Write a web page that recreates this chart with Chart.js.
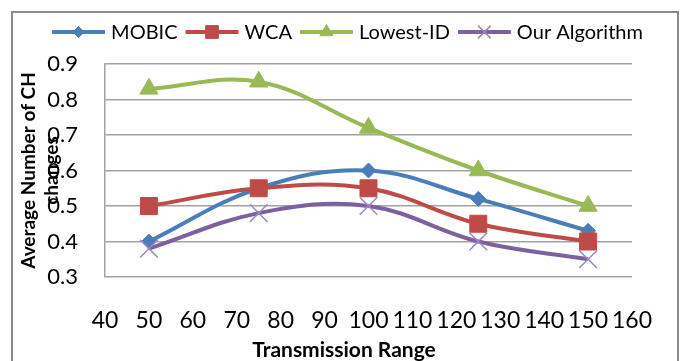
<!DOCTYPE html>
<html>
<head>
<meta charset="utf-8">
<script src="https://cdn.jsdelivr.net/npm/chart.js@4.4.1/dist/chart.umd.min.js"></script>
<style>
  html, body { margin: 0; padding: 0; background: #fff; }
  #wrap { position: relative; width: 683px; height: 361px; overflow: hidden; }
  #frame { position: absolute; left: 11px; top: 11px; width: 664px; height: 420px; border: 2px solid #8a8a8a; }
  #c { position: absolute; left: 0; top: 0; }
</style>
</head>
<body>
<div id="wrap">
  <div id="frame"></div>
  <canvas id="c" width="683" height="361"></canvas>
</div>
<script>
// Transmission ranges at which each algorithm was measured
const ranges = [50, 75, 100, 125, 150];

// Average number of cluster-head changes per algorithm
const mobic        = [0.40, 0.55, 0.60, 0.52, 0.43];
const wca          = [0.50, 0.55, 0.55, 0.45, 0.40];
const lowestId     = [0.83, 0.85, 0.72, 0.60, 0.50];
const ourAlgorithm = [0.38, 0.48, 0.50, 0.40, 0.35];

// Axis ticks
const xTicks = [40, 50, 60, 70, 80, 90, 100, 110, 120, 130, 140, 150, 160];
const yTicks = [0.3, 0.4, 0.5, 0.6, 0.7, 0.8, 0.9];

const xTitle = 'Transmission Range';
const yTitle = ['Average Number of CH', 'changes'];

const FONT = 'Lato, "Open Sans", "DejaVu Sans", sans-serif';

const toPoints = (vals) => vals.map((v, i) => ({ x: ranges[i], y: v }));

const series = [
  { label: 'MOBIC', values: mobic, color: '#4a7ebb', marker: 'rectRot', radius: 7.5, keyRadius: 5.5, fill: '#4a7ebb', edge: '#4a7ebb', edgeWidth: 1, order: 4 },
  { label: 'WCA', values: wca, color: '#be4b48', marker: 'rect', radius: 12, keyRadius: 9, fill: '#be4b48', edge: '#be4b48', edgeWidth: 1, order: 3 },
  { label: 'Lowest-ID', values: lowestId, color: '#98b954', marker: 'triangle', radius: 10.5, keyRadius: 7.5, fill: '#98b954', edge: '#98b954', edgeWidth: 1, order: 2 },
  { label: 'Our Algorithm', values: ourAlgorithm, color: '#7d60a0', marker: 'crossRot', radius: 12.5, keyRadius: 9, fill: 'rgba(0,0,0,0)', edge: '#9a87c2', edgeWidth: 1.5, order: 1 }
];

const datasets = series.map(s => ({
  label: s.label,
  data: toPoints(s.values),
  borderColor: s.color,
  backgroundColor: s.color,
  borderWidth: 4,
  tension: 0.38,
  pointStyle: s.marker,
  pointRadius: s.radius,
  pointBackgroundColor: s.fill,
  pointBorderColor: s.edge,
  pointBorderWidth: s.edgeWidth,
  keyRadius: s.keyRadius,
  order: s.order
}));

// Series key across the top and the horizontal axis caption
const captions = {
  id: 'captions',
  afterDraw(chart) {
    const ctx = chart.ctx;
    ctx.save();
    ctx.font = '20px ' + FONT;
    ctx.textBaseline = 'middle';
    const lineLen = 53, textGap = 6, itemGap = 8, keyY = 32, keyCenter = 347.5;
    const items = chart.data.datasets.map(ds => ({ ds, w: ctx.measureText(ds.label).width }));
    const total = items.reduce((s, it) => s + lineLen + textGap + it.w, 0) + itemGap * (items.length - 1);
    let x = keyCenter - total / 2;
    items.forEach(({ ds, w }) => {
      ctx.strokeStyle = ds.borderColor;
      ctx.lineWidth = 4;
      ctx.beginPath();
      ctx.moveTo(x, keyY);
      ctx.lineTo(x + lineLen, keyY);
      ctx.stroke();
      ctx.fillStyle = ds.pointBackgroundColor;
      ctx.strokeStyle = ds.pointBorderColor;
      ctx.lineWidth = ds.pointBorderWidth;
      Chart.helpers.drawPoint(ctx, {
        pointStyle: ds.pointStyle,
        radius: ds.keyRadius,
        borderWidth: ds.pointBorderWidth,
        rotation: 0
      }, x + lineLen / 2, keyY);
      ctx.fillStyle = '#000';
      ctx.textAlign = 'left';
      ctx.fillText(ds.label, x + lineLen + textGap, keyY + 1);
      x += lineLen + textGap + w + itemGap;
    });
    ctx.font = 'bold 21px ' + FONT;
    ctx.textAlign = 'center';
    ctx.fillStyle = '#000';
    ctx.fillText(xTitle, 344, 350);
    ctx.restore();
  }
};

new Chart(document.getElementById('c'), {
  type: 'line',
  data: { datasets },
  plugins: [captions],
  options: {
    responsive: false,
    animation: false,
    devicePixelRatio: 1,
    layout: { padding: { top: 64, right: 51, bottom: 0, left: 0 } },
    plugins: {
      legend: { display: false },
      tooltip: { enabled: false }
    },
    scales: {
      x: {
        type: 'linear',
        min: xTicks[0],
        max: xTicks[xTicks.length - 1],
        afterFit(scale) { scale.height = 84; },
        afterBuildTicks(scale) { scale.ticks = xTicks.map(v => ({ value: v })); },
        grid: { display: false, drawTicks: false },
        border: { display: false },
        ticks: {
          padding: 30,
          color: '#000',
          font: { family: FONT, size: 23 },
          maxRotation: 0,
          autoSkip: false
        }
      },
      y: {
        min: yTicks[0],
        max: yTicks[yTicks.length - 1],
        afterFit(scale) { scale.width = 105; },
        afterBuildTicks(scale) { scale.ticks = yTicks.map(v => ({ value: v })); },
        grid: { color: '#a2a2a2', lineWidth: 1.5, drawTicks: false },
        border: { display: true, color: '#a2a2a2', width: 1.5 },
        ticks: {
          padding: 27,
          color: '#000',
          font: { family: FONT, size: 22 },
          callback: (v) => Number(v).toFixed(1)
        },
        title: {
          display: true,
          text: yTitle,
          color: '#000',
          padding: { top: 17.5, bottom: 0 },
          font: { family: FONT, size: 19, weight: 'bold', lineHeight: '23px' }
        }
      }
    }
  }
});
</script>
</body>
</html>
